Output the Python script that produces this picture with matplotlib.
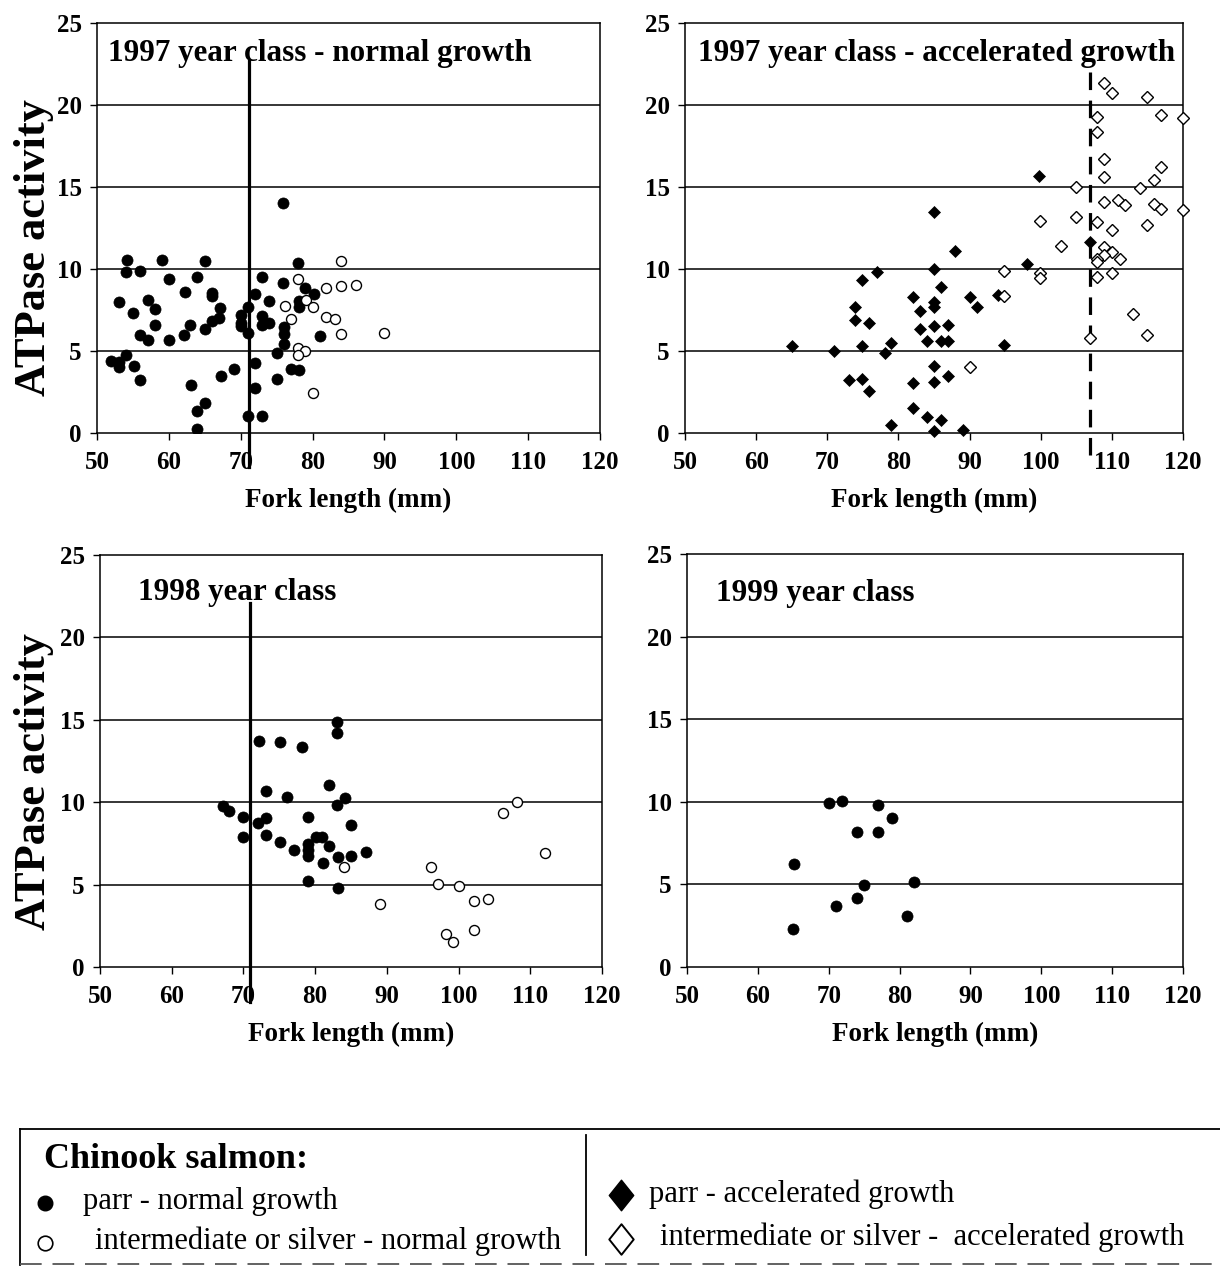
import matplotlib
matplotlib.use("Agg")
import matplotlib.pyplot as plt
from matplotlib.lines import Line2D
from matplotlib.path import Path

plt.rcParams['font.family'] = ['Liberation Serif', 'DejaVu Serif']

# ---------------- data ----------------
# Panel 1: 1997 year class - normal growth
p1_parr_x = [75.9, 54.2, 59.0, 65.0, 78.0, 54.1, 56.0, 60.0, 63.9, 73.0, 75.9, 62.2, 66.0, 66.0,
             79.0, 80.2, 72.0, 53.1, 57.1, 74.0, 78.1, 58.1, 67.1, 71.0, 78.1, 55.0, 70.0, 73.0,
             67.0, 66.0, 70.0, 73.0, 74.0, 58.1, 63.0, 65.0, 70.0, 76.0, 71.0, 76.0, 56.0, 57.1,
             60.0, 62.1, 81.0, 76.0, 54.1, 52.0, 53.1, 53.1, 55.1, 72.0, 75.1, 69.0, 67.2, 56.0,
             75.1, 77.0, 78.1, 63.1, 72.0, 65.0, 63.9, 71.0, 73.0, 63.9]
p1_parr_y = [14.0, 10.56, 10.56, 10.5, 10.37, 9.8, 9.9, 9.38, 9.54, 9.54, 9.16, 8.59, 8.53, 8.33,
             8.86, 8.45, 8.45, 7.98, 8.13, 8.02, 8.02, 7.58, 7.62, 7.68, 7.68, 7.34, 7.21, 7.15,
             7.01, 6.85, 6.73, 6.6, 6.73, 6.6, 6.57, 6.36, 6.52, 6.46, 6.1, 6.06, 5.96, 5.65,
             5.65, 6.0, 5.92, 5.45, 4.74, 4.38, 4.03, 4.34, 4.09, 4.24, 4.88, 3.89, 3.47, 3.22,
             3.28, 3.89, 3.85, 2.92, 2.76, 1.8, 1.36, 1.05, 1.05, 0.24]
p1_silver_x = [84.0, 78.0, 81.9, 84.0, 86.0, 79.1, 76.1, 80.0, 77.0, 81.9, 83.1, 84.0, 89.9,
               78.0, 79.0, 78.0, 80.1]
p1_silver_y = [10.46, 9.38, 8.83, 8.96, 9.04, 8.09, 7.74, 7.68, 6.97, 7.07, 6.93, 6.02, 6.1,
               5.19, 4.98, 4.78, 2.41]
p1_line_x = 71.2

# Panel 2: 1997 year class - accelerated growth
p2_parr_x = [99.8, 85.0, 87.9, 106.9, 98.1, 85.0, 77.0, 74.9, 86.0, 82.0, 90.0, 94.0, 85.0, 91.0,
             73.9, 85.0, 83.0, 73.9, 75.9, 85.0, 86.9, 83.0, 84.0, 86.0, 86.9, 65.1, 70.9, 74.9,
             78.9, 78.1, 94.9, 85.0, 73.1, 74.9, 75.9, 82.0, 85.0, 86.9, 82.0, 84.0, 86.0, 78.9,
             89.05, 85.0]
p2_parr_y = [15.68, 13.45, 11.12, 11.66, 10.28, 10.0, 9.8, 9.31, 8.88, 8.32, 8.28, 8.44, 8.01, 7.71,
             7.71, 7.67, 7.42, 6.86, 6.69, 6.55, 6.61, 6.35, 5.64, 5.6, 5.6, 5.33, 5.03, 5.29,
             5.48, 4.87, 5.38, 4.08, 3.25, 3.31, 2.54, 3.04, 3.1, 3.47, 1.54, 0.97, 0.81, 0.51,
             0.2, 0.1]
p2_silver_x = [108.9, 110.0, 114.9, 107.9, 116.9, 120.0, 107.9, 108.9, 116.9, 108.9, 115.9, 105.0,
               114.0, 108.9, 110.9, 111.9, 115.9, 116.9, 120.0, 105.0, 99.9, 107.9, 110.0, 114.9,
               102.9, 108.9, 110.0, 108.9, 111.1, 107.9, 107.9, 94.9, 99.9, 99.9, 107.9, 110.0,
               94.9, 113.0, 106.9, 114.9, 90.0]
p2_silver_y = [21.36, 20.71, 20.49, 19.29, 19.39, 19.19, 18.36, 16.69, 16.23, 15.62, 15.42, 14.97,
               14.93, 14.06, 14.22, 13.89, 13.96, 13.65, 13.61, 13.2, 12.9, 12.88, 12.39, 12.68,
               11.42, 11.32, 11.05, 10.85, 10.61, 10.61, 10.41, 9.86, 9.74, 9.43, 9.49, 9.74,
               8.38, 7.26, 5.8, 5.98, 4.02]
p2_line_x = 106.9

# Panel 3: 1998 year class
p3_parr_x = [83.1, 83.1, 72.2, 75.1, 78.1, 73.1, 82.0, 76.1, 84.1, 83.1, 67.1, 68.0, 70.0, 73.1,
             79.0, 72.0, 85.0, 70.0, 73.1, 80.05, 81.0, 75.1, 79.0, 82.0, 77.0, 79.0, 87.1, 79.0,
             85.0, 83.2, 81.1, 79.0, 83.2]
p3_parr_y = [14.87, 14.22, 13.7, 13.64, 13.33, 10.69, 11.03, 10.34, 10.24, 9.8, 9.74, 9.47, 9.09,
             9.07, 9.09, 8.73, 8.59, 7.88, 8.02, 7.88, 7.88, 7.56, 7.47, 7.37, 7.11, 7.11, 6.99,
             6.75, 6.75, 6.67, 6.3, 5.23, 4.79]
p3_silver_x = [108.1, 106.2, 112.1, 84.0, 96.1, 97.1, 100.0, 89.1, 104.1, 102.2, 102.2, 98.2, 99.2]
p3_silver_y = [10.04, 9.37, 6.91, 6.04, 6.04, 5.05, 4.93, 3.84, 4.14, 3.98, 2.26, 2.0, 1.52]
p3_line_x = 70.9

# Panel 4: 1999 year class
p4_parr_x = [70.1, 71.9, 77.0, 79.0, 74.0, 77.0, 65.1, 82.0, 75.0, 74.0, 71.0, 81.0, 65.0]
p4_parr_y = [9.92, 10.02, 9.78, 8.99, 8.16, 8.16, 6.21, 5.16, 4.96, 4.19, 3.7, 3.08, 2.29]

titles = ["1997 year class - normal growth", "1997 year class - accelerated growth",
          "1998 year class", "1999 year class"]
x_ticks = [50, 60, 70, 80, 90, 100, 110, 120]
y_ticks = [0, 5, 10, 15, 20, 25]
x_label = "Fork length (mm)"
y_label = "ATPase activity"
legend_title = "Chinook salmon:"
legend_labels = ["parr - normal growth", "intermediate or silver - normal growth",
                 "parr - accelerated growth", "intermediate or silver -  accelerated growth"]

# ---------------- figure ----------------
W, H = 1220, 1273
fig = plt.figure(figsize=(W / 100, H / 100), dpi=100)
fig.patch.set_facecolor('white')


def fx(x):
    return x / W


def fy(y):
    return 1 - y / H


def px_axes(l, t, r, b):
    return fig.add_axes([l / W, 1 - b / H, (r - l) / W, (b - t) / H])


axes = [px_axes(97, 23, 600, 433), px_axes(685, 23, 1183, 433),
        px_axes(100, 555, 602, 967), px_axes(687, 554, 1183, 967)]

for i, ax in enumerate(axes):
    ax.set_xlim(50, 120)
    ax.set_ylim(0, 25)
    ax.set_xticks(x_ticks)
    ax.set_yticks(y_ticks)
    ax.set_xticklabels([str(v) for v in x_ticks], fontsize=18, fontweight='bold')
    ax.set_yticklabels([str(v) for v in y_ticks], fontsize=18, fontweight='bold')
    ax.tick_params(axis='both', direction='out', length=5, width=1.0, color='black')
    ax.tick_params(axis='x', pad=8)
    ax.tick_params(axis='y', pad=6)
    for s in ax.spines.values():
        s.set_linewidth(1.1)
        s.set_color('black')
    for g in [5, 10, 15, 20]:
        ax.axhline(g, color='black', lw=1.1, zorder=1)
    ax.set_xlabel(x_label, fontsize=19.5, fontweight='bold', labelpad=10)

# y labels (left panels only)
fig.text(fx(34), fy(248), y_label, rotation=90, fontsize=32, fontweight='bold',
         ha='center', va='center')
fig.text(fx(34), fy(782), y_label, rotation=90, fontsize=32, fontweight='bold',
         ha='center', va='center')

circle_ms = 8.0
open_ms = 7.2
diamond_ms = 6.4

# Panel 1
ax = axes[0]
ax.plot([p1_line_x, p1_line_x], [22.7, -2.1], color='black', lw=2.3, clip_on=False, zorder=2)
ax.plot(p1_parr_x, p1_parr_y, 'o', ls='none', ms=circle_ms, mfc='black', mec='black', mew=0.5, zorder=3)
ax.plot(p1_silver_x, p1_silver_y, 'o', ls='none', ms=open_ms, mfc='white', mec='black', mew=1.0, zorder=3)

# Panel 2
ax = axes[1]
ax.plot([p2_line_x, p2_line_x], [22.0, -1.9], color='black', lw=2.3, ls=(0, (5.5, 3.3)),
        clip_on=False, zorder=2)
ax.plot(p2_parr_x, p2_parr_y, 'D', ls='none', ms=diamond_ms, mfc='black', mec='black', mew=0.5,
        zorder=3, clip_on=False)
ax.plot(p2_silver_x, p2_silver_y, 'D', ls='none', ms=diamond_ms, mfc='white', mec='black', mew=1.0,
        zorder=3, clip_on=False)

# Panel 3
ax = axes[2]
ax.plot([p3_line_x, p3_line_x], [22.06, -2.1], color='black', lw=2.3, clip_on=False, zorder=2)
ax.plot(p3_parr_x, p3_parr_y, 'o', ls='none', ms=circle_ms, mfc='black', mec='black', mew=0.5, zorder=3)
ax.plot(p3_silver_x, p3_silver_y, 'o', ls='none', ms=open_ms, mfc='white', mec='black', mew=1.0, zorder=3)

# Panel 4
ax = axes[3]
ax.plot(p4_parr_x, p4_parr_y, 'o', ls='none', ms=circle_ms, mfc='black', mec='black', mew=0.5, zorder=3)

# Panel titles (pixel-positioned)
title_pos = [(108, 53), (698, 53), (138, 592), (716, 593)]
for (tx, ty), t in zip(title_pos, titles):
    fig.text(fx(tx), fy(ty), t, fontsize=22.4, fontweight='bold', ha='left', va='center')

# ---------------- legend box ----------------
fig.add_artist(Line2D([fx(20), fx(1220)], [fy(1129), fy(1129)], color='black', lw=1.3))
fig.add_artist(Line2D([fx(20), fx(20)], [fy(1129), fy(1265)], color='black', lw=1.3))
fig.add_artist(Line2D([fx(20), fx(1220)], [fy(1264), fy(1264)], color='#555555', lw=1.3,
                      ls=(0, (12, 6))))
fig.add_artist(Line2D([fx(586), fx(586)], [fy(1135), fy(1255)], color='black', lw=1.3))

wide_diamond = Path([(0, 1), (0.8, 0), (0, -1), (-0.8, 0), (0, 1)],
                    [Path.MOVETO, Path.LINETO, Path.LINETO, Path.LINETO, Path.CLOSEPOLY])

fig.text(fx(44), fy(1160), legend_title, fontsize=26, fontweight='bold', ha='left', va='center')
fig.add_artist(Line2D([fx(45)], [fy(1203)], marker='o', ms=10.5, mfc='black', mec='black', ls='none'))
fig.text(fx(83), fy(1201), legend_labels[0], fontsize=22, ha='left', va='center')
fig.add_artist(Line2D([fx(45)], [fy(1243)], marker='o', ms=10.5, mfc='white', mec='black',
                      mew=1.2, ls='none'))
fig.text(fx(95), fy(1241), legend_labels[1], fontsize=22, ha='left', va='center')

fig.add_artist(Line2D([fx(621)], [fy(1195)], marker=wide_diamond, ms=22, mfc='black', mec='black',
                      ls='none'))
fig.text(fx(649), fy(1194), legend_labels[2], fontsize=22, ha='left', va='center')
fig.add_artist(Line2D([fx(621)], [fy(1239)], marker=wide_diamond, ms=22, mfc='white', mec='black',
                      mew=1.4, ls='none'))
fig.text(fx(660), fy(1237), legend_labels[3], fontsize=22, ha='left', va='center')

fig.savefig("out.png", dpi=100, facecolor='white')
